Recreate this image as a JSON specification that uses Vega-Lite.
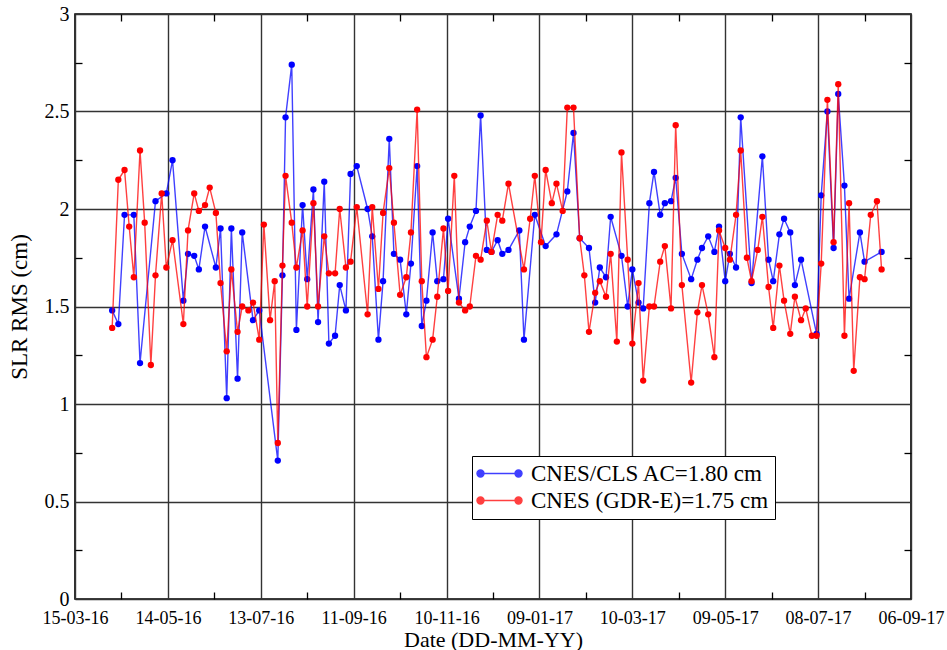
{
  "$schema": "https://vega.github.io/schema/vega-lite/v6.json",
  "width": 836,
  "height": 585,
  "autosize": {"type": "none"},
  "padding": {"left": 75, "top": 14, "right": 36, "bottom": 51},
  "background": "white",
  "config": {
    "view": {"stroke": "#000", "strokeWidth": 1.6},
    "font": "Liberation Serif",
    "axis": {
      "labelFont": "Liberation Serif",
      "titleFont": "Liberation Serif",
      "labelColor": "#000",
      "titleColor": "#000",
      "titleFontWeight": "normal",
      "tickColor": "#000",
      "domain": false,
      "gridColor": "#333",
      "gridWidth": 1.4,
      "gridOpacity": 1
    }
  },
  "datasets": {
    "ac": [
      {"date": "2016-04-08", "rms": 1.48}, {"date": "2016-04-12", "rms": 1.41}, {"date": "2016-04-16", "rms": 1.97},
      {"date": "2016-04-22", "rms": 1.97}, {"date": "2016-04-26", "rms": 1.21}, {"date": "2016-05-06", "rms": 2.04},
      {"date": "2016-05-13", "rms": 2.08}, {"date": "2016-05-17", "rms": 2.25}, {"date": "2016-05-24", "rms": 1.53},
      {"date": "2016-05-27", "rms": 1.77}, {"date": "2016-05-31", "rms": 1.76}, {"date": "2016-06-03", "rms": 1.69},
      {"date": "2016-06-07", "rms": 1.91}, {"date": "2016-06-14", "rms": 1.70}, {"date": "2016-06-17", "rms": 1.90},
      {"date": "2016-06-21", "rms": 1.03}, {"date": "2016-06-24", "rms": 1.90}, {"date": "2016-06-28", "rms": 1.13},
      {"date": "2016-07-01", "rms": 1.88}, {"date": "2016-07-08", "rms": 1.43}, {"date": "2016-07-12", "rms": 1.48},
      {"date": "2016-07-24", "rms": 0.71}, {"date": "2016-07-27", "rms": 1.66}, {"date": "2016-07-29", "rms": 2.47},
      {"date": "2016-08-02", "rms": 2.74}, {"date": "2016-08-05", "rms": 1.38}, {"date": "2016-08-09", "rms": 2.02},
      {"date": "2016-08-12", "rms": 1.64}, {"date": "2016-08-16", "rms": 2.10}, {"date": "2016-08-19", "rms": 1.42},
      {"date": "2016-08-23", "rms": 2.14}, {"date": "2016-08-26", "rms": 1.31}, {"date": "2016-08-30", "rms": 1.35},
      {"date": "2016-09-02", "rms": 1.61}, {"date": "2016-09-06", "rms": 1.48}, {"date": "2016-09-09", "rms": 2.18},
      {"date": "2016-09-13", "rms": 2.22}, {"date": "2016-09-20", "rms": 2.00}, {"date": "2016-09-23", "rms": 1.86},
      {"date": "2016-09-27", "rms": 1.33}, {"date": "2016-09-30", "rms": 1.63}, {"date": "2016-10-04", "rms": 2.36},
      {"date": "2016-10-07", "rms": 1.77}, {"date": "2016-10-11", "rms": 1.74}, {"date": "2016-10-15", "rms": 1.46},
      {"date": "2016-10-18", "rms": 1.72}, {"date": "2016-10-22", "rms": 2.22}, {"date": "2016-10-25", "rms": 1.40},
      {"date": "2016-10-28", "rms": 1.53}, {"date": "2016-11-01", "rms": 1.88}, {"date": "2016-11-04", "rms": 1.63},
      {"date": "2016-11-08", "rms": 1.64}, {"date": "2016-11-11", "rms": 1.95}, {"date": "2016-11-18", "rms": 1.54},
      {"date": "2016-11-22", "rms": 1.83}, {"date": "2016-11-25", "rms": 1.91}, {"date": "2016-11-29", "rms": 1.99},
      {"date": "2016-12-02", "rms": 2.48}, {"date": "2016-12-06", "rms": 1.79}, {"date": "2016-12-09", "rms": 1.78},
      {"date": "2016-12-13", "rms": 1.84}, {"date": "2016-12-16", "rms": 1.77}, {"date": "2016-12-20", "rms": 1.79},
      {"date": "2016-12-27", "rms": 1.89}, {"date": "2016-12-30", "rms": 1.33}, {"date": "2017-01-06", "rms": 1.97},
      {"date": "2017-01-13", "rms": 1.81}, {"date": "2017-01-20", "rms": 1.87}, {"date": "2017-01-27", "rms": 2.09},
      {"date": "2017-01-31", "rms": 2.39}, {"date": "2017-02-04", "rms": 1.85}, {"date": "2017-02-10", "rms": 1.80},
      {"date": "2017-02-14", "rms": 1.52}, {"date": "2017-02-17", "rms": 1.70}, {"date": "2017-02-21", "rms": 1.65},
      {"date": "2017-02-24", "rms": 1.96}, {"date": "2017-03-03", "rms": 1.76}, {"date": "2017-03-07", "rms": 1.50},
      {"date": "2017-03-10", "rms": 1.69}, {"date": "2017-03-14", "rms": 1.52}, {"date": "2017-03-17", "rms": 1.49},
      {"date": "2017-03-21", "rms": 2.03}, {"date": "2017-03-24", "rms": 2.19}, {"date": "2017-03-28", "rms": 1.97},
      {"date": "2017-03-31", "rms": 2.03}, {"date": "2017-04-04", "rms": 2.04}, {"date": "2017-04-07", "rms": 2.16},
      {"date": "2017-04-11", "rms": 1.77}, {"date": "2017-04-17", "rms": 1.64}, {"date": "2017-04-21", "rms": 1.74},
      {"date": "2017-04-24", "rms": 1.80}, {"date": "2017-04-28", "rms": 1.86}, {"date": "2017-05-02", "rms": 1.78},
      {"date": "2017-05-05", "rms": 1.91}, {"date": "2017-05-09", "rms": 1.63}, {"date": "2017-05-12", "rms": 1.77},
      {"date": "2017-05-16", "rms": 1.70}, {"date": "2017-05-19", "rms": 2.47}, {"date": "2017-05-26", "rms": 1.62},
      {"date": "2017-06-02", "rms": 2.27}, {"date": "2017-06-06", "rms": 1.74}, {"date": "2017-06-09", "rms": 1.63},
      {"date": "2017-06-13", "rms": 1.87}, {"date": "2017-06-16", "rms": 1.95}, {"date": "2017-06-20", "rms": 1.88},
      {"date": "2017-06-23", "rms": 1.61}, {"date": "2017-06-27", "rms": 1.74}, {"date": "2017-07-07", "rms": 1.36},
      {"date": "2017-07-10", "rms": 2.07}, {"date": "2017-07-14", "rms": 2.50}, {"date": "2017-07-18", "rms": 1.80},
      {"date": "2017-07-21", "rms": 2.59}, {"date": "2017-07-25", "rms": 2.12}, {"date": "2017-07-28", "rms": 1.54},
      {"date": "2017-08-04", "rms": 1.88}, {"date": "2017-08-07", "rms": 1.73}, {"date": "2017-08-18", "rms": 1.78}
    ],
    "gdre": [
      {"date": "2016-04-08", "rms": 1.39}, {"date": "2016-04-12", "rms": 2.15}, {"date": "2016-04-16", "rms": 2.20},
      {"date": "2016-04-19", "rms": 1.91}, {"date": "2016-04-22", "rms": 1.65}, {"date": "2016-04-26", "rms": 2.30},
      {"date": "2016-04-29", "rms": 1.93}, {"date": "2016-05-03", "rms": 1.20}, {"date": "2016-05-06", "rms": 1.66},
      {"date": "2016-05-10", "rms": 2.08}, {"date": "2016-05-13", "rms": 1.70}, {"date": "2016-05-17", "rms": 1.84},
      {"date": "2016-05-24", "rms": 1.41}, {"date": "2016-05-27", "rms": 1.89}, {"date": "2016-05-31", "rms": 2.08},
      {"date": "2016-06-03", "rms": 1.99}, {"date": "2016-06-07", "rms": 2.02}, {"date": "2016-06-10", "rms": 2.11},
      {"date": "2016-06-14", "rms": 1.98}, {"date": "2016-06-17", "rms": 1.62}, {"date": "2016-06-21", "rms": 1.27},
      {"date": "2016-06-24", "rms": 1.69}, {"date": "2016-06-28", "rms": 1.37}, {"date": "2016-07-01", "rms": 1.50},
      {"date": "2016-07-05", "rms": 1.48}, {"date": "2016-07-08", "rms": 1.52}, {"date": "2016-07-12", "rms": 1.33},
      {"date": "2016-07-15", "rms": 1.92}, {"date": "2016-07-19", "rms": 1.43}, {"date": "2016-07-22", "rms": 1.63},
      {"date": "2016-07-24", "rms": 0.80}, {"date": "2016-07-27", "rms": 1.71}, {"date": "2016-07-29", "rms": 2.17},
      {"date": "2016-08-02", "rms": 1.93}, {"date": "2016-08-05", "rms": 1.70}, {"date": "2016-08-09", "rms": 1.89},
      {"date": "2016-08-12", "rms": 1.50}, {"date": "2016-08-16", "rms": 2.03}, {"date": "2016-08-19", "rms": 1.50},
      {"date": "2016-08-23", "rms": 1.86}, {"date": "2016-08-26", "rms": 1.67}, {"date": "2016-08-30", "rms": 1.67},
      {"date": "2016-09-02", "rms": 2.00}, {"date": "2016-09-06", "rms": 1.70}, {"date": "2016-09-09", "rms": 1.73},
      {"date": "2016-09-13", "rms": 2.01}, {"date": "2016-09-20", "rms": 1.46}, {"date": "2016-09-23", "rms": 2.01},
      {"date": "2016-09-27", "rms": 1.59}, {"date": "2016-09-30", "rms": 1.98}, {"date": "2016-10-04", "rms": 2.21},
      {"date": "2016-10-07", "rms": 1.93}, {"date": "2016-10-11", "rms": 1.56}, {"date": "2016-10-15", "rms": 1.65},
      {"date": "2016-10-18", "rms": 1.88}, {"date": "2016-10-22", "rms": 2.51}, {"date": "2016-10-25", "rms": 1.63},
      {"date": "2016-10-28", "rms": 1.24}, {"date": "2016-11-01", "rms": 1.33}, {"date": "2016-11-04", "rms": 1.55},
      {"date": "2016-11-08", "rms": 1.90}, {"date": "2016-11-11", "rms": 1.58}, {"date": "2016-11-15", "rms": 2.17},
      {"date": "2016-11-18", "rms": 1.52}, {"date": "2016-11-22", "rms": 1.48}, {"date": "2016-11-25", "rms": 1.50},
      {"date": "2016-11-29", "rms": 1.76}, {"date": "2016-12-02", "rms": 1.74}, {"date": "2016-12-06", "rms": 1.94},
      {"date": "2016-12-09", "rms": 1.78}, {"date": "2016-12-13", "rms": 1.97}, {"date": "2016-12-16", "rms": 1.94},
      {"date": "2016-12-20", "rms": 2.13}, {"date": "2016-12-30", "rms": 1.69}, {"date": "2017-01-03", "rms": 1.95},
      {"date": "2017-01-06", "rms": 2.17}, {"date": "2017-01-10", "rms": 1.83}, {"date": "2017-01-13", "rms": 2.20},
      {"date": "2017-01-17", "rms": 2.03}, {"date": "2017-01-20", "rms": 2.13}, {"date": "2017-01-24", "rms": 1.99},
      {"date": "2017-01-27", "rms": 2.52}, {"date": "2017-01-31", "rms": 2.52}, {"date": "2017-02-04", "rms": 1.85},
      {"date": "2017-02-07", "rms": 1.66}, {"date": "2017-02-10", "rms": 1.37}, {"date": "2017-02-14", "rms": 1.57},
      {"date": "2017-02-17", "rms": 1.63}, {"date": "2017-02-21", "rms": 1.55}, {"date": "2017-02-24", "rms": 1.77},
      {"date": "2017-02-28", "rms": 1.32}, {"date": "2017-03-03", "rms": 2.29}, {"date": "2017-03-07", "rms": 1.74},
      {"date": "2017-03-10", "rms": 1.31}, {"date": "2017-03-14", "rms": 1.62}, {"date": "2017-03-17", "rms": 1.12},
      {"date": "2017-03-21", "rms": 1.50}, {"date": "2017-03-24", "rms": 1.50}, {"date": "2017-03-28", "rms": 1.73},
      {"date": "2017-03-31", "rms": 1.81}, {"date": "2017-04-04", "rms": 1.49}, {"date": "2017-04-07", "rms": 2.43},
      {"date": "2017-04-11", "rms": 1.61}, {"date": "2017-04-17", "rms": 1.11}, {"date": "2017-04-21", "rms": 1.47},
      {"date": "2017-04-24", "rms": 1.61}, {"date": "2017-04-28", "rms": 1.46}, {"date": "2017-05-02", "rms": 1.24},
      {"date": "2017-05-05", "rms": 1.89}, {"date": "2017-05-09", "rms": 1.80}, {"date": "2017-05-12", "rms": 1.74},
      {"date": "2017-05-16", "rms": 1.97}, {"date": "2017-05-19", "rms": 2.30}, {"date": "2017-05-23", "rms": 1.75},
      {"date": "2017-05-26", "rms": 1.63}, {"date": "2017-05-30", "rms": 1.79}, {"date": "2017-06-02", "rms": 1.96},
      {"date": "2017-06-06", "rms": 1.60}, {"date": "2017-06-09", "rms": 1.39}, {"date": "2017-06-13", "rms": 1.71},
      {"date": "2017-06-16", "rms": 1.53}, {"date": "2017-06-20", "rms": 1.36}, {"date": "2017-06-23", "rms": 1.55},
      {"date": "2017-06-27", "rms": 1.43}, {"date": "2017-06-30", "rms": 1.49}, {"date": "2017-07-04", "rms": 1.35},
      {"date": "2017-07-07", "rms": 1.35}, {"date": "2017-07-10", "rms": 1.72}, {"date": "2017-07-14", "rms": 2.56},
      {"date": "2017-07-18", "rms": 1.83}, {"date": "2017-07-21", "rms": 2.64}, {"date": "2017-07-25", "rms": 1.35},
      {"date": "2017-07-28", "rms": 2.03}, {"date": "2017-07-31", "rms": 1.17}, {"date": "2017-08-04", "rms": 1.65},
      {"date": "2017-08-07", "rms": 1.64}, {"date": "2017-08-11", "rms": 1.97}, {"date": "2017-08-15", "rms": 2.04},
      {"date": "2017-08-18", "rms": 1.69}
    ]
  },
  "layer": [
    {
      "data": {"name": "ac"},
      "mark": {"type": "line", "strokeWidth": 1.4, "opacity": 0.75},
      "encoding": {
        "x": {
          "field": "date", "type": "temporal",
          "scale": {"domain": [{"year": 2016, "month": 3, "date": 15}, {"year": 2017, "month": 9, "date": 6}], "nice": false},
          "axis": {
            "orient": "bottom",
            "values": [
              {"year": 2016, "month": 3, "date": 15}, {"year": 2016, "month": 5, "date": 14},
              {"year": 2016, "month": 7, "date": 13}, {"year": 2016, "month": 9, "date": 11},
              {"year": 2016, "month": 11, "date": 10}, {"year": 2017, "month": 1, "date": 9},
              {"year": 2017, "month": 3, "date": 10}, {"year": 2017, "month": 5, "date": 9},
              {"year": 2017, "month": 7, "date": 8}, {"year": 2017, "month": 9, "date": 6}
            ],
            "format": "%d-%m-%y",
            "grid": true, "ticks": false,
            "labelFont": "Liberation Serif", "labelFontSize": 18, "labelPadding": 10, "labelFlush": false, "labelOverlap": false,
            "title": "Date (DD-MM-YY)", "titleFont": "Liberation Serif", "titleFontSize": 22, "titlePadding": 2
          }
        },
        "y": {
          "field": "rms", "type": "quantitative",
          "scale": {"domain": [0, 3], "nice": false},
          "axis": {
            "orient": "left",
            "values": [0, 0.5, 1, 1.5, 2, 2.5, 3],
            "format": "~g",
            "grid": true, "ticks": false,
            "labelFont": "Liberation Serif", "labelFontSize": 20, "labelPadding": 6,
            "title": "SLR RMS (cm)", "titleFont": "Liberation Serif", "titleFontSize": 23, "titlePadding": 13
          }
        },
        "color": {
          "datum": "CNES/CLS AC=1.80 cm",
          "scale": {"domain": ["CNES/CLS AC=1.80 cm", "CNES (GDR-E)=1.75 cm"], "range": ["#0000ff", "#ff0000"]},
          "legend": {
            "orient": "none", "legendX": 397, "legendY": 442, "title": null,
            "strokeColor": "#000", "fillColor": "#fff", "padding": 6,
            "labelFont": "Liberation Serif", "labelFontSize": 23, "labelColor": "#000", "labelLimit": 0,
            "symbolType": "M-2,0L2,0M-2.37,0a0.37,0.37 0 1,0 0.74,0a0.37,0.37 0 1,0 -0.74,0M1.63,0a0.37,0.37 0 1,0 0.74,0a0.37,0.37 0 1,0 -0.74,0",
            "symbolSize": 361, "symbolStrokeWidth": 1.4, "symbolOffset": 10, "labelOffset": 20, "rowPadding": 3,
            "encode": {
              "symbols": {
                "update": {
                  "fill": {"scale": "color", "field": "value"},
                  "stroke": {"scale": "color", "field": "value"},
                  "opacity": {"value": 1}
                }
              }
            }
          }
        }
      }
    },
    {
      "data": {"name": "ac"},
      "mark": {"type": "point", "filled": true, "size": 40, "opacity": 1},
      "encoding": {
        "x": {
          "field": "date", "type": "temporal",
          "scale": {"domain": [{"year": 2016, "month": 3, "date": 15}, {"year": 2017, "month": 9, "date": 6}], "nice": false},
          "axis": {
            "orient": "bottom",
            "values": [
              {"year": 2016, "month": 4, "date": 14}, {"year": 2016, "month": 6, "date": 13},
              {"year": 2016, "month": 8, "date": 12}, {"year": 2016, "month": 10, "date": 11},
              {"year": 2016, "month": 12, "date": 10}, {"year": 2017, "month": 2, "date": 8},
              {"year": 2017, "month": 4, "date": 9}, {"year": 2017, "month": 6, "date": 8},
              {"year": 2017, "month": 8, "date": 7}
            ],
            "labels": false, "grid": false, "ticks": true, "tickSize": -7, "tickWidth": 1.3, "title": null
          }
        },
        "y": {
          "field": "rms", "type": "quantitative",
          "scale": {"domain": [0, 3], "nice": false},
          "axis": {
            "orient": "left",
            "values": [0.25, 0.75, 1.25, 1.75, 2.25, 2.75],
            "labels": false, "grid": false, "ticks": true, "tickSize": -7, "tickWidth": 1.3, "title": null
          }
        },
        "color": {"datum": "CNES/CLS AC=1.80 cm"}
      }
    },
    {
      "data": {"name": "gdre"},
      "mark": {"type": "line", "strokeWidth": 1.4, "opacity": 0.75},
      "encoding": {
        "x": {
          "field": "date", "type": "temporal",
          "scale": {"domain": [{"year": 2016, "month": 3, "date": 15}, {"year": 2017, "month": 9, "date": 6}], "nice": false},
          "axis": {
            "orient": "top",
            "values": [
              {"year": 2016, "month": 4, "date": 14}, {"year": 2016, "month": 6, "date": 13},
              {"year": 2016, "month": 8, "date": 12}, {"year": 2016, "month": 10, "date": 11},
              {"year": 2016, "month": 12, "date": 10}, {"year": 2017, "month": 2, "date": 8},
              {"year": 2017, "month": 4, "date": 9}, {"year": 2017, "month": 6, "date": 8},
              {"year": 2017, "month": 8, "date": 7}
            ],
            "labels": false, "grid": false, "ticks": true, "tickSize": -7, "tickWidth": 1.3, "title": null
          }
        },
        "y": {
          "field": "rms", "type": "quantitative",
          "scale": {"domain": [0, 3], "nice": false},
          "axis": {
            "orient": "right",
            "values": [0.25, 0.75, 1.25, 1.75, 2.25, 2.75],
            "labels": false, "grid": false, "ticks": true, "tickSize": -7, "tickWidth": 1.3, "title": null
          }
        },
        "color": {"datum": "CNES (GDR-E)=1.75 cm"}
      }
    },
    {
      "data": {"name": "gdre"},
      "mark": {"type": "point", "filled": true, "size": 40, "opacity": 1},
      "encoding": {
        "x": {
          "field": "date", "type": "temporal",
          "scale": {"domain": [{"year": 2016, "month": 3, "date": 15}, {"year": 2017, "month": 9, "date": 6}], "nice": false},
          "axis": null
        },
        "y": {
          "field": "rms", "type": "quantitative",
          "scale": {"domain": [0, 3], "nice": false},
          "axis": null
        },
        "color": {"datum": "CNES (GDR-E)=1.75 cm"}
      }
    }
  ],
  "resolve": {"axis": {"x": "independent", "y": "independent"}}
}
